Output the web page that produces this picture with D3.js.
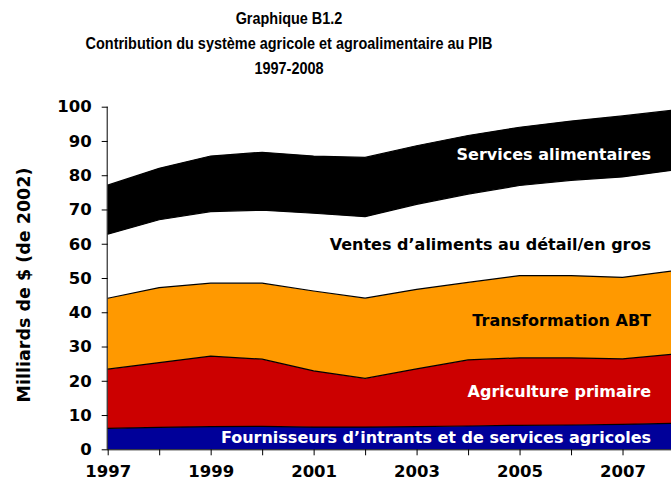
<!DOCTYPE html>
<html><head><meta charset="utf-8">
<script src="https://cdn.jsdelivr.net/npm/d3@7"></script>
<style>body{margin:0;background:#fff}svg{display:block}</style>
</head><body><svg id="c" width="671" height="487"></svg>
<script>
const years = [1997,1998,1999,2000,2001,2002,2003,2004,2005,2006,2007,2008];
const fournisseurs   = [6.1,6.4,6.6,6.7,6.5,6.5,6.6,6.8,7.0,7.1,7.3,7.6];
const agriculture    = [17.3,18.9,20.6,19.6,16.4,14.2,16.9,19.3,19.7,19.6,19.1,20.2];
const transformation = [20.7,21.9,21.3,22.2,23.3,23.4,23.2,22.6,24.0,24.0,23.8,24.3];
const ventes         = [18.7,19.8,20.9,21.3,22.7,23.8,24.8,25.8,26.3,27.8,29.3,29.4];
const services       = [14.3,15.0,16.2,16.9,16.7,17.3,17.1,17.1,17.0,17.3,17.8,17.5];
const seriesKeys = ["fournisseurs","agriculture","transformation","ventes","services"];
const seriesLabels = ["Fournisseurs d\u2019intrants et de services agricoles","Agriculture primaire","Transformation ABT","Ventes d\u2019aliments au d\u00e9tail/en gros","Services alimentaires"];
const seriesColors = ["#000099","#cc0000","#ff9900","#ffffff","#000000"];
const labelColors = ["#ffffff","#ffffff","#000000","#000000","#ffffff"];
const yTicks = [0,10,20,30,40,50,60,70,80,90,100];
const xTickLabels = [1997,1999,2001,2003,2005,2007];
const titleLines = ["Graphique B1.2","Contribution du syst\u00e8me agricole et agroalimentaire au PIB","1997-2008"];
const yAxisTitle = "Milliards de $ (de 2002)";

const rows = years.map((yr,i)=>({year:yr,fournisseurs:fournisseurs[i],agriculture:agriculture[i],transformation:transformation[i],ventes:ventes[i],services:services[i]}));
const stack = d3.stack().keys(seriesKeys)(rows);

const svg = d3.select("#c");
const x = d3.scaleLinear().domain([1997,2008]).range([107.7,674]);
const y = d3.scaleLinear().domain([0,100]).range([449.3,106.7]);
const font = "'DejaVu Sans', Verdana, sans-serif";

const area = d3.area().x(d=>x(d.data.year)).y0(d=>y(d[0])).y1(d=>y(d[1]));
const topLine = d3.line().x(d=>x(d.data.year)).y(d=>y(d[1]));

svg.append("g").selectAll("path").data(stack).join("path")
  .attr("d",area).attr("fill",(d,i)=>seriesColors[i]);
svg.append("g").selectAll("path").data(stack).join("path")
  .attr("d",topLine).attr("fill","none").attr("stroke","#000").attr("stroke-width",1.2);

// axes
const yAxis = d3.axisLeft(y).tickValues(yTicks).tickSize(6).tickPadding(10);
const gy = svg.append("g").attr("transform","translate(107.7,0)").call(yAxis);
gy.select(".domain").attr("stroke","#000").attr("d","M-0.5,106.7V449.3");
gy.selectAll("text").attr("font-family",font).attr("font-weight","bold").attr("font-size",16.5).attr("fill","#000");

const xAxis = d3.axisBottom(x).tickValues(years).tickSize(6).tickFormat(d=>xTickLabels.includes(d)?d:"").tickPadding(10);
const gx = svg.append("g").attr("transform","translate(0,449.3)").call(xAxis);
gx.select(".domain").attr("stroke","#000").attr("d","M107.2,0.5H674");
gx.selectAll("text").attr("font-family",font).attr("font-weight","bold").attr("font-size",16.5).attr("fill","#000");

// title (narrow look)
const tg = svg.append("g").attr("transform","translate(289,0) scale(0.85,1)");
tg.selectAll("text").data(titleLines).join("text")
  .attr("x",0).attr("y",(d,i)=>24+i*25).attr("text-anchor","middle")
  .attr("font-family","'Liberation Sans Narrow','Liberation Sans',Arial,sans-serif")
  .attr("font-weight","bold").attr("font-size",17).text(d=>d);

// y axis title
svg.append("text").attr("transform","translate(30,285) rotate(-90)").attr("text-anchor","middle")
  .attr("font-family",font).attr("font-weight","bold").attr("font-size",17.5).text(yAxisTitle);

// series labels
const labelY = [443,397,326,250,160];
svg.append("g").selectAll("text").data(seriesLabels).join("text")
  .attr("x",651).attr("y",(d,i)=>labelY[i]).attr("text-anchor","end")
  .attr("font-family",font).attr("font-weight","bold").attr("font-size",16)
  .attr("fill",(d,i)=>labelColors[i]).text(d=>d);
</script></body></html>
